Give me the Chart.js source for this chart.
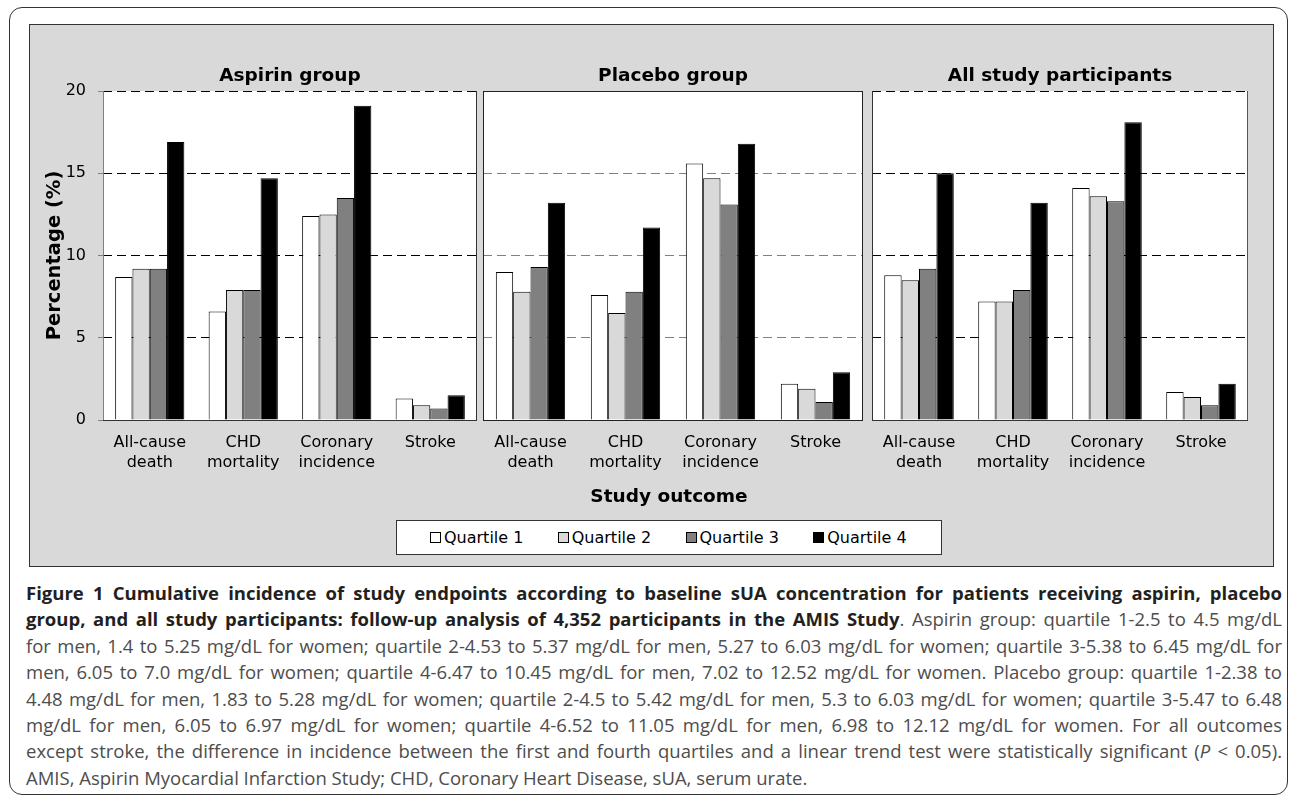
<!DOCTYPE html>
<html>
<head>
<meta charset="utf-8">
<script src="https://cdn.jsdelivr.net/npm/chart.js@4.4.1/dist/chart.umd.min.js"></script>
<style>
html, body { margin: 0; padding: 0; background: #fff; }
body { width: 1290px; height: 797px; position: relative; overflow: hidden; font-family: 'DejaVu Sans', sans-serif; }
#frame { position: absolute; left: 9px; top: 7px; width: 1279px; height: 788px; box-sizing: border-box;
  border: 1.5px solid #333; border-radius: 13px; }
#panel { position: absolute; left: 29px; top: 24px; width: 1245px; height: 543px; box-sizing: border-box;
  border: 1.5px solid #333; background: #d9d9d9; }
.box { position: absolute; top: 24px; height: 466px; }
#xtitle { position: absolute; left: 469px; width: 400px; top: 485px; line-height: 22px; text-align: center;
  font-weight: bold; font-size: 18.5px; color: #000; }
#legend { position: absolute; left: 396px; top: 520px; width: 546px; height: 35px; box-sizing: border-box;
  border: 1.5px solid #333; background: #fff; display: flex; align-items: center; padding-left: 33px; }
#legend .item { width: 129px; display: flex; align-items: center; font-size: 16px; color: #000; }
#legend .sw { width: 11px; height: 11px; border: 1px solid #000; margin-right: 3px; box-sizing: border-box; }
#caption { position: absolute; left: 26px; top: 580px; width: 1256px; font-family: 'Open Sans', sans-serif;
  font-size: 18.5px; line-height: 26.4px; color: #4d4d4d; }
#caption .ln { white-space: nowrap; }
#caption b { color: #231f20; font-weight: 700; }
</style>
</head>
<body>
<div id="frame"></div>
<div id="panel"></div>
<div class="box" style="left:29px;width:448px"><canvas id="aspirinChart"></canvas></div>
<div class="box" style="left:483px;width:380px"><canvas id="placeboChart"></canvas></div>
<div class="box" style="left:872px;width:376px"><canvas id="allChart"></canvas></div>
<div id="xtitle">Study outcome</div>
<div id="legend"></div>
<div id="caption">
<div class="ln j"><span><b>Figure 1 Cumulative incidence of study endpoints according to baseline sUA concentration for patients receiving aspirin, placebo</b></span></div>
<div class="ln j"><span><b>group, and all study participants: follow-up analysis of 4,352 participants in the AMIS Study</b>. Aspirin group: quartile 1-2.5 to 4.5 mg/dL</span></div>
<div class="ln j"><span>for men, 1.4 to 5.25 mg/dL for women; quartile 2-4.53 to 5.37 mg/dL for men, 5.27 to 6.03 mg/dL for women; quartile 3-5.38 to 6.45 mg/dL for</span></div>
<div class="ln j"><span>men, 6.05 to 7.0 mg/dL for women; quartile 4-6.47 to 10.45 mg/dL for men, 7.02 to 12.52 mg/dL for women. Placebo group: quartile 1-2.38 to</span></div>
<div class="ln j"><span>4.48 mg/dL for men, 1.83 to 5.28 mg/dL for women; quartile 2-4.5 to 5.42 mg/dL for men, 5.3 to 6.03 mg/dL for women; quartile 3-5.47 to 6.48</span></div>
<div class="ln j"><span>mg/dL for men, 6.05 to 6.97 mg/dL for women; quartile 4-6.52 to 11.05 mg/dL for men, 6.98 to 12.12 mg/dL for women. For all outcomes</span></div>
<div class="ln j"><span>except stroke, the difference in incidence between the first and fourth quartiles and a linear trend test were statistically significant (<i>P</i> &lt; 0.05).</span></div>
<div class="ln"><span>AMIS, Aspirin Myocardial Infarction Study; CHD, Coronary Heart Disease, sUA, serum urate.</span></div>
</div>
<script>
// categories and series
const outcomes = [['All-cause', 'death'], ['CHD', 'mortality'], ['Coronary', 'incidence'], ['Stroke']];
const quartiles = ['Quartile 1', 'Quartile 2', 'Quartile 3', 'Quartile 4'];
const quartileFill = ['#ffffff', '#d9d9d9', '#808080', '#000000'];
const yTicks = [0, 5, 10, 15, 20];

// Aspirin group (%)
const aspirinQ1 = [8.7, 6.6, 12.4, 1.3];
const aspirinQ2 = [9.2, 7.9, 12.5, 0.9];
const aspirinQ3 = [9.2, 7.9, 13.5, 0.7];
const aspirinQ4 = [16.9, 14.7, 19.1, 1.5];

// Placebo group (%)
const placeboQ1 = [9.0, 7.6, 15.6, 2.2];
const placeboQ2 = [7.8, 6.5, 14.7, 1.9];
const placeboQ3 = [9.3, 7.8, 13.1, 1.1];
const placeboQ4 = [13.2, 11.7, 16.8, 2.9];

// All study participants (%)
const allQ1 = [8.8, 7.2, 14.1, 1.7];
const allQ2 = [8.5, 7.2, 13.6, 1.4];
const allQ3 = [9.2, 7.9, 13.3, 0.9];
const allQ4 = [15.0, 13.2, 18.1, 2.2];

Chart.defaults.font.family = "'DejaVu Sans', sans-serif";
Chart.defaults.color = '#000';

// white plot area + solid frame lines
const framePlugin = {
  id: 'frame',
  beforeDraw(chart) {
    const {ctx, chartArea: a} = chart;
    ctx.save();
    ctx.fillStyle = '#fff';
    ctx.fillRect(a.left, a.top, a.right - a.left, a.bottom - a.top);
    ctx.restore();
  },
  afterDraw(chart, args, opts) {
    const {ctx, chartArea: a} = chart;
    const line = (x1, y1, x2, y2, c) => {
      ctx.strokeStyle = c;
      ctx.beginPath(); ctx.moveTo(x1, y1); ctx.lineTo(x2, y2); ctx.stroke();
    };
    ctx.save();
    ctx.lineWidth = 1;
    ctx.setLineDash([]);
    if (opts.top) line(a.left, a.top + 0.5, a.right, a.top + 0.5, opts.top);
    if (opts.left) line(a.left + 0.5, a.top, a.left + 0.5, a.bottom + 1, opts.left);
    if (opts.right) line(a.right - 0.5, a.top, a.right - 0.5, a.bottom + 1, opts.right);
    if (opts.bottom) line(a.left, a.bottom + 0.5, a.right, a.bottom + 0.5, opts.bottom);
    ctx.restore();
  }
};

function makePanel(id, title, series, gridColor, frame, showAxis, catPct) {
  return new Chart(document.getElementById(id), {
    type: 'bar',
    data: {
      labels: outcomes,
      datasets: series.map((d, i) => ({
        label: quartiles[i],
        data: d,
        backgroundColor: quartileFill[i],
        borderColor: '#000',
        borderWidth: 1,
        barPercentage: 1,
        categoryPercentage: catPct
      }))
    },
    options: {
      responsive: true,
      maintainAspectRatio: false,
      animation: false,
      layout: {padding: 0},
      plugins: {
        legend: {display: false},
        tooltip: {enabled: false},
        title: {
          display: true, text: title, fullSize: false, color: '#000',
          font: {size: 18.5, weight: 'bold', lineHeight: 1.2},
          padding: {top: 41, bottom: 3.8}
        },
        frame: frame
      },
      scales: {
        x: {
          grid: {display: false},
          border: {display: false},
          ticks: {color: '#000', font: {size: 16, lineHeight: 1.3}, padding: 4, maxRotation: 0, autoSkip: false},
          afterFit: s => { s.height = 70; }
        },
        y: {
          min: 0, max: 20,
          afterBuildTicks: s => { s.ticks = yTicks.map(v => ({value: v})); },
          grid: {color: gridColor, lineWidth: 1, drawTicks: showAxis, tickLength: 5,
                 tickColor: '#808080', tickBorderDash: []},
          border: {display: false, dash: [9, 5]},
          ticks: {display: showAxis, color: '#000', font: {size: 16}, padding: 12},
          title: {display: showAxis, text: 'Percentage (%)', color: '#000',
                  font: {size: 19.5, weight: 'bold'}, padding: {top: 14, bottom: 0}},
          afterFit: s => { s.width = showAxis ? 74 : 0; }
        }
      }
    },
    plugins: [framePlugin]
  });
}

makePanel('aspirinChart', 'Aspirin group', [aspirinQ1, aspirinQ2, aspirinQ3, aspirinQ4], '#000',
  {left: '#808080', right: '#333', bottom: '#333'}, true, 0.74);
makePanel('placeboChart', 'Placebo group', [placeboQ1, placeboQ2, placeboQ3, placeboQ4], '#808080',
  {top: '#222', left: '#222', right: '#222', bottom: '#222'}, false, 0.73);
makePanel('allChart', 'All study participants', [allQ1, allQ2, allQ3, allQ4], '#000',
  {left: '#333', right: '#555', bottom: '#333'}, false, 0.74);

// legend under the panels
const legend = document.getElementById('legend');
quartiles.forEach((q, i) => {
  const item = document.createElement('div');
  item.className = 'item';
  item.innerHTML = '<div class="sw" style="background:' + quartileFill[i] + '"></div>' + q;
  legend.appendChild(item);
});

// justify caption lines to the full width
const capWidth = 1256;
document.querySelectorAll('#caption .ln.j').forEach(el => {
  const span = el.firstElementChild;
  const w = span.getBoundingClientRect().width;
  const spaces = (el.textContent.trim().match(/ /g) || []).length;
  let ws = (capWidth - w) / spaces;
  if (ws < 0) {
    const chars = el.textContent.trim().length;
    el.style.letterSpacing = ((capWidth - w) / chars) + 'px';
    ws = 0;
  }
  el.style.wordSpacing = ws + 'px';
});
</script>
</body>
</html>
